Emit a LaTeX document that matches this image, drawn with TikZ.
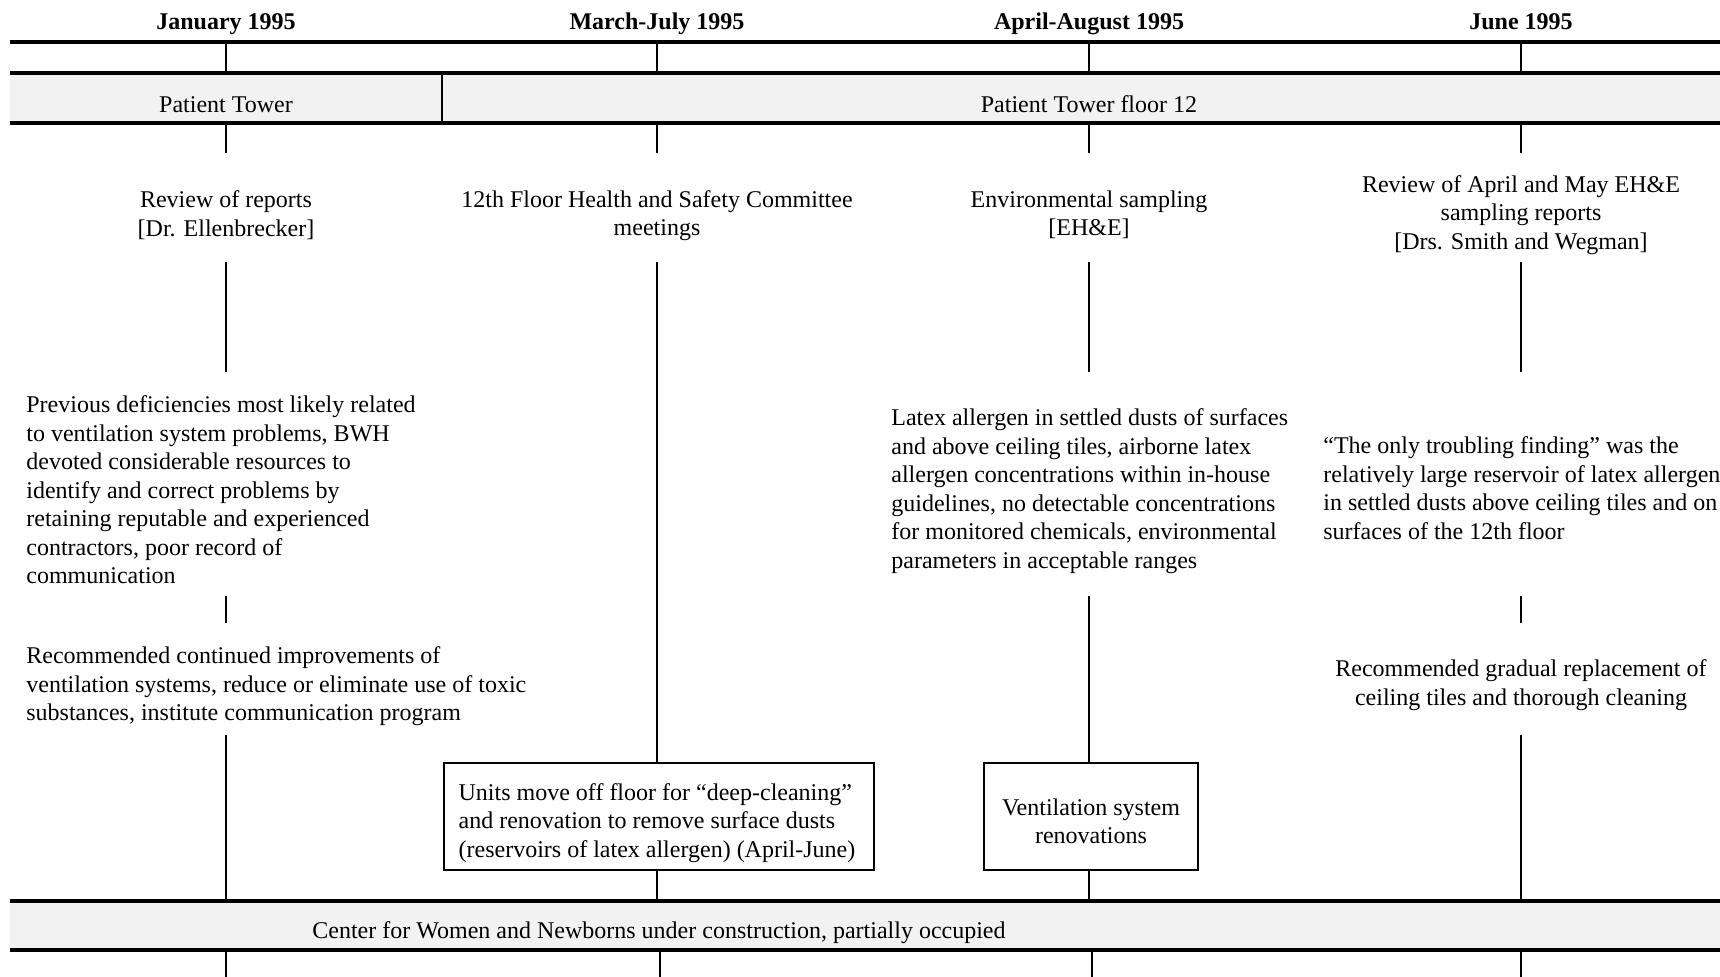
\documentclass[tikz,border=0pt]{standalone}
\usepackage{fontspec}
\setmainfont{Liberation Serif}
\usepackage{xcolor}
\usepackage{tikz}
\definecolor{bandgray}{RGB}{242, 242, 242}
\tikzset{
  bandline/.style = {draw=black, line width=1.8pt},
  vline/.style = {draw=black, line width=1.1pt},
  divline/.style = {draw=black, line width=0.8pt},
  head/.style = {
    font=\fontsize{12}{14.25}\selectfont\bfseries, inner sep=0pt,
    anchor=base
  },
  entry/.style = {
    font=\fontsize{12}{14.25}\selectfont, align=center, inner sep=0pt
  },
  para/.style = {
    font=\fontsize{12}{14.25}\selectfont, align=left,
    inner sep=0pt, anchor=west
  },
  evbox/.style = {
    rectangle, draw=black, line width=1.2pt, fill=white,
    minimum width=#1, minimum height=53.5pt, inner sep=0pt
  },
  evbox/.default = 107pt,
}

\begin{document}
\begin{tikzpicture}[x=0.5pt, y=-0.5pt]

  \useasboundingbox (0,0) rectangle (1720,977);
  \clip (0,0) rectangle (1720,977);

  %% columns and levels
  \coordinate (c1) at (226,0);
  \coordinate (c2) at (657,0);
  \coordinate (c3) at (1089,0);
  \coordinate (c4) at (1521,0);
  \coordinate (c2l) at (660,0);
  \coordinate (c3l) at (1092,0);
  \coordinate (ytop)  at (0,42);
  \coordinate (ytopb) at (0,73);
  \coordinate (ymid)  at (0,123);
  \coordinate (ytick) at (0,153);
  \coordinate (ya)    at (0,262);
  \coordinate (yb)    at (0,372);
  \coordinate (yc)    at (0,596);
  \coordinate (yd)    at (0,623);
  \coordinate (ye)    at (0,735);
  \coordinate (ylow)  at (0,901);
  \coordinate (ylowb) at (0,950);
  \coordinate (yend)  at (0,977);

  %% bands
  \fill[bandgray] (10,73) rectangle (1720,123);
  \fill[bandgray] (10,901) rectangle (1720,950);
  \draw[bandline] (10,42) -- (1720,42);
  \draw[bandline] (10,73) -- (1720,73);
  \draw[bandline] (10,123) -- (1720,123);
  \draw[bandline] (10,901) -- (1720,901);
  \draw[bandline] (10,950) -- (1720,950);
  \draw[divline] (442,73) -- (442,123);

  %% headers and band labels
  \node[head] (d1) at (226,30)  {January 1995};
  \node[head] (d2) at (657,30)  {March-July 1995};
  \node[head] (d3) at (1089,30) {April-August 1995};
  \node[head] (d4) at (1521,30) {June 1995};
  \node[entry] (tower) at (226,104.5)  {Patient Tower};
  \node[entry] (floor) at (1089,104.5) {Patient Tower floor 12};
  \node[entry] (cwn)   at (659,933)
    {Center for Women and Newborns under construction, partially occupied};

  %% first row
  \node[entry] (r1) at (226,215)  {Review of reports\\ {[Dr. Ellenbrecker]}};
  \node[entry] (r2) at (657,215.5)
    {12th Floor Health and Safety Committee\\meetings};
  \node[entry] (r3) at (1089,215) {Environmental sampling\\ {[EH\&E]}};
  \node[entry] (r4) at (1521,215)
    {Review of April and May EH\&E\\sampling reports\\ {[Drs. Smith and Wegman]}};

  %% findings
  \node[para] (f1) at (26,490)
    {Previous deficiencies most likely related\\
     to ventilation system problems, BWH\\
     devoted considerable resources to\\
     identify and correct problems by\\
     retaining reputable and experienced\\
     contractors, poor record of\\
     communication};
  \node[para] (f3) at (891,491)
    {Latex allergen in settled dusts of surfaces\\
     and above ceiling tiles, airborne latex\\
     allergen concentrations within in-house\\
     guidelines, no detectable concentrations\\
     for monitored chemicals, environmental\\
     parameters in acceptable ranges};
  \node[para] (f4) at (1323,488)
    {“The only troubling finding” was the\\
     relatively large reservoir of latex allergen\\
     in settled dusts above ceiling tiles and on\\
     surfaces of the 12th floor};

  %% recommendations
  \node[para] (m1) at (26,686.5)
    {Recommended continued improvements of\\
     ventilation systems, reduce or eliminate use of toxic\\
     substances, institute communication program};
  \node[entry] (m4) at (1521,685)
    {Recommended gradual replacement of\\ceiling tiles and thorough cleaning};

  %% actions
  \node[evbox=215pt,
        label={[para, anchor=center, yshift=-3.3pt, xshift=-1pt]center:%
          Units move off floor for “deep-cleaning”\\
          and renovation to remove surface dusts\\
          (reservoirs of latex allergen) (April-June)}]
    (b2) at (659,816.5) {};
  \node[evbox,
        label={[entry, yshift=-2.3pt]center:Ventilation system\\renovations}]
    (b3) at (1091,816.5) {};

  %% ticks
  \foreach \c in {c1,c2,c3,c4}
    \draw[vline] (\c |- ytop) -- (\c |- ytopb)
                 (\c |- ymid) -- (\c |- ytick);
  \foreach \c in {c1,c2l,c3l,c4}
    \draw[vline] (\c |- ylowb) -- (\c |- yend);
  \foreach \c in {c1,c4}
    \draw[vline] (\c |- ya) -- (\c |- yb)
                 (\c |- yc) -- (\c |- yd)
                 (\c |- ye) -- (\c |- ylow);
  \draw[vline] (c2 |- ya) -- (c2 |- b2.north);
  \draw[vline] (c2 |- b2.south) -- (c2 |- ylow);
  \draw[vline] (c3 |- ya) -- (c3 |- yb);
  \draw[vline] (c3 |- yc) -- (c3 |- b3.north);
  \draw[vline] (c3 |- b3.south) -- (c3 |- ylow);

\end{tikzpicture}
\end{document}
